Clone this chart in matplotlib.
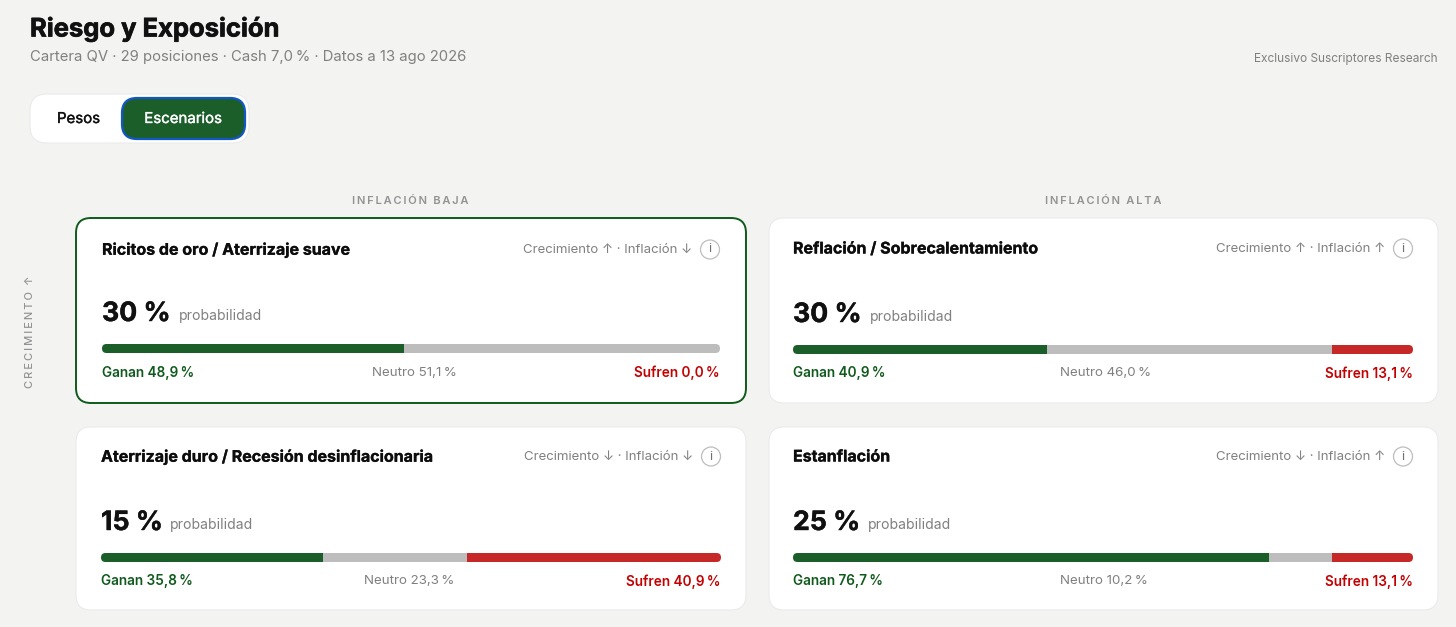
import matplotlib
matplotlib.use('Agg')
import matplotlib.pyplot as plt
import matplotlib.patheffects as pe
from matplotlib.patches import FancyBboxPatch, Circle

plt.rcParams['font.family'] = ['Inter', 'DejaVu Sans']

# Datos de los escenarios
nombres = ['Ricitos de oro / Aterrizaje suave', 'Reflación / Sobrecalentamiento',
           'Aterrizaje duro / Recesión desinflacionaria', 'Estanflación']
etiquetas = ['Crecimiento ↑ · Inflación ↓', 'Crecimiento ↑ · Inflación ↑',
             'Crecimiento ↓ · Inflación ↓', 'Crecimiento ↓ · Inflación ↑']
probabilidad = [30, 30, 15, 25]
ganan = [48.9, 40.9, 35.8, 76.7]
neutro = [51.1, 46.0, 23.3, 10.2]
sufren = [0.0, 13.1, 40.9, 13.1]

W, H = 1456, 627
VERDE = '#1b5e2a'
VERDE_TXT = '#0f5a1c'
GRIS = '#bdbdbd'
ROJO = '#c62828'
ROJO_TXT = '#c40000'
FONDO = '#f3f3f2'

# x0, y0, x1, y1 de cada tarjeta
tarjetas = [(76, 218, 746, 403), (769, 218, 1438, 403), (76, 427, 746, 610), (769, 427, 1438, 610)]
# posicion de la barra: x0, x1, y0, y1
barras = [(102, 720, 344, 353), (793, 1413, 345, 354), (101, 721, 553, 562), (793, 1413, 553, 562)]
y_titulo = [250, 249, 457, 457]
y_prob = [314, 315, 523, 523]
x_prob_txt = [179, 870, 170, 868]
x_neutro = [414, 1106, 409, 1104]
x_info = [710, 1403, 711, 1403]
x_etq = [692, 1385, 693, 1385]


def coma(v):
    return f'{v:.1f}'.replace('.', ',') + '\u2009%'


def espaciado(t):
    return '\u200a\u200a'.join(t)


def grueso(color, lw=0.2):
    return [pe.withStroke(linewidth=lw, foreground=color)]


fig = plt.figure(figsize=(W / 100, H / 100), dpi=100, facecolor=FONDO)
ax = fig.add_axes([0, 0, 1, 1])
ax.set_xlim(0, W)
ax.set_ylim(H, 0)
ax.axis('off')

# Cabecera
ax.text(30, 29, 'Riesgo y Exposición', fontsize=18.4, fontweight='bold', color='#111111', va='center',
        path_effects=grueso('#111111', 0.5))
ax.text(30, 57, 'Cartera QV · 29 posiciones · Cash 7,0\u2009% · Datos a 13 ago 2026',
        fontsize=10.7, color='#808080', va='center')
ax.text(1438, 59, 'Exclusivo Suscriptores Research', fontsize=8.55, color='#808080', va='center', ha='right')

# Selector
ax.add_patch(FancyBboxPatch((30, 94), 219, 49, boxstyle='round,pad=0,rounding_size=17',
                            fc='white', ec='#ebebeb', lw=0.8))
ax.add_patch(FancyBboxPatch((122, 98), 123, 41, boxstyle='round,pad=0,rounding_size=15',
                            fc=VERDE, ec='#1257c4', lw=1.6))
ax.text(78.5, 119, 'Pesos', fontsize=10.8, color='#111111', ha='center', va='center',
        path_effects=grueso('#111111', 0.25))
ax.text(183, 119, 'Escenarios', fontsize=10.8, color='white', ha='center', va='center',
        path_effects=grueso('white', 0.25))

# Encabezados de columna y fila
ax.text(410, 201.5, espaciado('INFLACIÓN BAJA'), fontsize=8, fontweight='semibold', color='#929292',
        ha='center', va='center')
ax.text(1103, 201.5, espaciado('INFLACIÓN ALTA'), fontsize=8, fontweight='semibold', color='#929292',
        ha='center', va='center')
ax.text(30, 332, espaciado('CRECIMIENTO') + '  ↑', fontsize=8, fontweight='medium', color='#929292',
        rotation=90, ha='center', va='center')

for i, (x0, y0, x1, y1) in enumerate(tarjetas):
    activa = i == 0
    ax.add_patch(FancyBboxPatch((x0, y0), x1 - x0, y1 - y0, boxstyle='round,pad=0,rounding_size=15',
                                fc='white', ec='#0f5a1c' if activa else '#ebebeb', lw=1.4 if activa else 0.8))
    bx0, bx1, by0, by1 = barras[i]

    ax.text(bx0, y_titulo[i], nombres[i], fontsize=11.5, fontweight='bold', color='#0d0d0d', va='center',
            path_effects=grueso('#0d0d0d'))
    ax.text(x_etq[i], y_titulo[i], etiquetas[i], fontsize=9.5, color='#808080', va='center', ha='right')
    ax.add_patch(Circle((x_info[i], y_titulo[i] - 0.5), 9.5, fc='white', ec='#bdbdbd', lw=0.9))
    ax.text(x_info[i], y_titulo[i] - 0.5, 'i', fontsize=9.5, color='#707070', ha='center', va='center')

    ax.text(bx0, y_prob[i], f'{probabilidad[i]} %', fontsize=19.2, fontweight='bold', color='#111111', va='center',
            path_effects=grueso('#111111', 0.3))
    ax.text(x_prob_txt[i], y_prob[i] + 2, 'probabilidad', fontsize=10.1, color='#808080', va='center')

    # Barra apilada con sus propios ejes (0-100 %)
    ax_b = fig.add_axes([bx0 / W, 1 - by1 / H, (bx1 - bx0) / W, (by1 - by0) / H])
    ax_b.set_xlim(0, ganan[i] + neutro[i] + sufren[i])
    ax_b.set_ylim(0, 1)
    ax_b.axis('off')
    clip = FancyBboxPatch((bx0, by0), bx1 - bx0, by1 - by0, boxstyle='round,pad=0,rounding_size=4.5',
                          transform=ax.transData, fc='none', ec='none')
    ax.add_patch(clip)
    izq = 0
    for valor, color in zip([ganan[i], neutro[i], sufren[i]], [VERDE, GRIS, ROJO]):
        for r in ax_b.barh(0.5, valor, left=izq, height=1, color=color):
            r.set_clip_path(clip)
        izq += valor

    y_lab = by1 + 19.5
    ax.text(bx0, y_lab, 'Ganan ' + coma(ganan[i]), fontsize=9.8, fontweight='semibold', color=VERDE_TXT, va='center')
    ax.text(x_neutro[i], y_lab, 'Neutro ' + coma(neutro[i]), fontsize=9.6, color='#808080', va='center', ha='center')
    ax.text(bx1, y_lab, 'Sufren ' + coma(sufren[i]), fontsize=9.8, fontweight='semibold', color=ROJO_TXT,
            va='center', ha='right')

fig.savefig('out.png', dpi=100, facecolor=FONDO)
